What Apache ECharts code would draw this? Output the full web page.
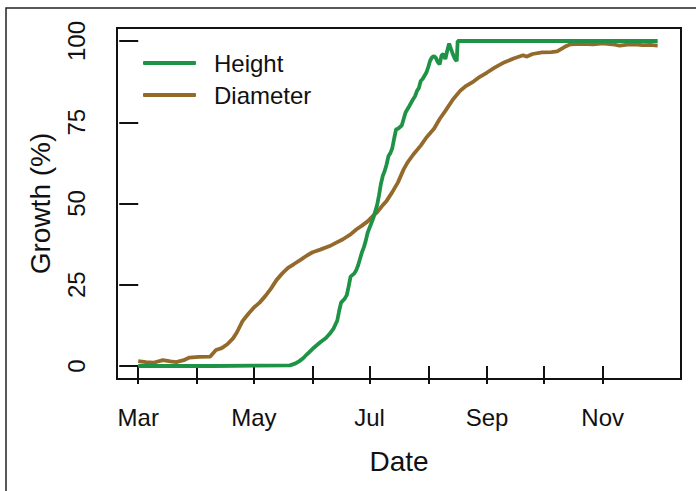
<!DOCTYPE html>
<html>
<head>
<meta charset="utf-8">
<script src="https://cdn.jsdelivr.net/npm/echarts@6/dist/echarts.min.js"></script>
<style>
  html, body { margin: 0; padding: 0; background: #fff; }
  #chart { width: 696px; height: 491px; }
</style>
</head>
<body>
<div id="chart"></div>
<script>
// days counted from 1 March
var diameterDays = [0, 4, 8, 13, 17, 20, 24, 27, 32, 38, 41, 44, 47, 50, 52, 55, 58, 61, 64, 67, 70, 73, 76, 79, 82, 86, 89, 92, 96, 101, 104, 108, 112, 115, 118, 121, 124, 126, 129, 131, 134, 137, 140, 142, 145, 149, 152, 156, 159, 162, 166, 170, 173, 177, 180, 184, 188, 193, 198, 203, 205, 208, 213, 218, 221, 225, 228, 234, 240, 245, 250, 254, 258, 262, 266, 270, 274];
var diameterVals = [1.5, 1.2, 1.0, 1.8, 1.4, 1.2, 1.8, 2.6, 2.8, 2.9, 4.9, 5.5, 6.7, 8.5, 10.3, 13.8, 16, 18, 19.5, 21.5, 23.8, 26.5, 28.5, 30.2, 31.3, 32.8, 34, 35, 35.8, 36.9, 37.8, 39, 40.5, 42, 43.2, 44.5, 46.3, 47.3, 49.5, 50.8, 53.5, 56.5, 60.5, 62.6, 65, 67.8, 70.3, 73, 76, 78.5, 82, 84.8, 86.2, 87.6, 88.9, 90.3, 91.8, 93.4, 94.6, 95.6, 95.2, 96, 96.5, 96.6, 96.8, 98.2, 99, 99.1, 99, 99.3, 99, 98.6, 98.9, 99, 98.7, 98.8, 98.6];

var heightDays = [0, 40, 80, 83, 85, 87, 89, 92, 94, 96, 99, 101, 103, 105, 106, 107, 109, 110, 111, 112, 114, 115, 116, 117, 118, 119, 120, 121, 122, 123, 124, 125, 126, 127, 128, 129, 130, 131, 132, 133, 134, 135, 136, 137, 139, 140, 141, 142, 143, 145, 146, 147, 148, 149, 150, 152, 153, 154, 155, 156, 157, 158, 159, 160, 161, 162, 163, 164, 165, 166, 167, 168, 168.5, 274];
var heightVals = [0, 0, 0.2, 0.8, 1.5, 2.4, 3.6, 5.3, 6.3, 7.3, 8.6, 9.9, 11.5, 14, 17, 19.5, 20.8, 21.8, 24.5, 27.5, 28.5, 29.5, 31, 33, 35, 36.5, 38.5, 41, 42.5, 44, 45.5, 47.5, 49.5, 52.5, 56, 58.5, 60, 62, 64.6, 65.5, 67, 70, 72.8, 73, 74, 76, 78, 79, 80, 82.1, 83, 84.6, 85.5, 87.7, 88.3, 90.3, 92, 94, 95, 95.4, 94.8, 93.5, 92.8, 95.6, 96, 94.4, 97, 99.2, 97.5, 95.9, 94.5, 93.8, 100, 100];

var tickMonths = ['Mar', 'Apr', 'May', 'Jun', 'Jul', 'Aug', 'Sep', 'Oct', 'Nov'];
var labelMonths = ['Mar', 'May', 'Jul', 'Sep', 'Nov'];
var yTicks = [0, 25, 50, 75, 100];

var monthNames = ['Jan', 'Feb', 'Mar', 'Apr', 'May', 'Jun', 'Jul', 'Aug', 'Sep', 'Oct', 'Nov', 'Dec'];
var DAY = 86400000;
var start = Date.UTC(2015, 2, 1);
// month start expressed as days since 1 March
function monthDay(m) { return Math.round((Date.UTC(2015, monthNames.indexOf(m), 1) - start) / DAY); }
function dayLabel(d) { return monthNames[new Date(start + d * DAY).getUTCMonth()]; }
function pairs(days, vals) {
  return days.map(function(d, i) { return [d, vals[i]]; });
}

var font = '"Liberation Sans", Arial, Helvetica, sans-serif';
var ink = '#111';
var green = '#1e9346';
var brown = '#936a2c';

var chart = echarts.init(document.getElementById('chart'), null, { renderer: 'svg' });
chart.setOption({
  animation: false,
  textStyle: { fontFamily: font },
  graphic: [{
    type: 'rect', silent: true,
    shape: { x: 6, y: 8, width: 720, height: 520 },
    style: { fill: 'none', stroke: '#222', lineWidth: 1.5 }
  }],
  grid: { left: 117, right: 15, top: 28, bottom: 112, show: true, borderColor: ink, borderWidth: 2, backgroundColor: 'transparent' },
  legend: {
    orient: 'vertical', left: 138, top: 45,
    itemWidth: 53, itemHeight: 4, itemGap: 6, icon: 'roundRect',
    textStyle: { fontFamily: font, fontSize: 24, color: ink, lineHeight: 26, padding: [0, 0, 0, 13] },
    data: ['Height', 'Diameter']
  },
  xAxis: {
    type: 'value',
    min: -11.2, max: 286.3,
    name: 'Date', nameLocation: 'middle', nameGap: 68,
    nameTextStyle: { fontFamily: font, fontSize: 28, color: ink },
    axisLine: { show: false },
    axisTick: { show: true, inside: false, length: 18, lineStyle: { color: ink, width: 2 }, customValues: tickMonths.map(monthDay) },
    axisLabel: {
      color: ink, fontSize: 24, fontFamily: font, margin: 26,
      customValues: labelMonths.map(monthDay),
      formatter: function(v) { return dayLabel(v); }
    },
    splitLine: { show: false }
  },
  yAxis: {
    type: 'value', min: -4, max: 104,
    name: 'Growth (%)', nameLocation: 'middle', nameGap: 63,
    nameTextStyle: { fontFamily: font, fontSize: 28, color: ink },
    axisLine: { show: false },
    axisTick: { show: true, inside: false, length: 19, lineStyle: { color: ink, width: 2 }, customValues: yTicks },
    axisLabel: { color: ink, fontSize: 24, fontFamily: font, rotate: 90, margin: 29, customValues: yTicks },
    splitLine: { show: false }
  },
  series: [
    {
      name: 'Height', type: 'line', showSymbol: false, symbol: 'none', z: 3,
      data: pairs(heightDays, heightVals),
      lineStyle: { color: green, width: 3.8 }, itemStyle: { color: green }
    },
    {
      name: 'Diameter', type: 'line', showSymbol: false, symbol: 'none', z: 2,
      data: pairs(diameterDays, diameterVals),
      lineStyle: { color: brown, width: 3.8 }, itemStyle: { color: brown }
    }
  ]
});
</script>
</body>
</html>
